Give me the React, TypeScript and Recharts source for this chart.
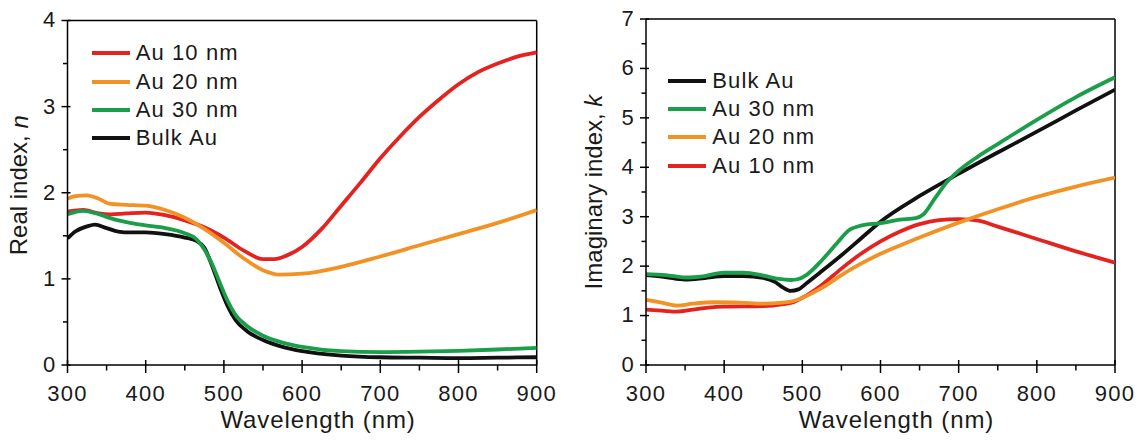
import React from 'react';
import { LineChart, Line, XAxis, YAxis, ReferenceLine, Legend } from 'recharts';

const FONT = '"Liberation Sans", Arial, Helvetica, sans-serif';
const TEXT = '#1a1a1a';
const RED = '#e42320';
const ORANGE = '#f39224';
const GREEN = '#1a9e4a';
const BLACK = '#111111';

// Axes
const wavelengthTicks = [300, 350, 400, 450, 500, 550, 600, 650, 700, 750, 800, 850, 900];
const realTicks = [0, 0.5, 1, 1.5, 2, 2.5, 3, 3.5, 4];
const imagTicks = [0, 0.5, 1, 1.5, 2, 2.5, 3, 3.5, 4, 4.5, 5, 5.5, 6, 6.5, 7];

// Real index n
const nAu10Wl = [300, 320, 340, 355, 375, 400, 425, 450, 475, 500, 525, 550, 565, 580, 600, 625, 650, 675, 700, 725, 750, 775, 800, 825, 850, 875, 900];
const nAu10 = [1.78, 1.8, 1.76, 1.75, 1.76, 1.77, 1.74, 1.68, 1.6, 1.48, 1.33, 1.23, 1.23, 1.27, 1.37, 1.58, 1.85, 2.12, 2.4, 2.65, 2.88, 3.08, 3.26, 3.4, 3.5, 3.58, 3.63];

const nAu20Wl = [300, 310, 325, 340, 355, 375, 400, 425, 450, 475, 500, 525, 550, 570, 600, 650, 700, 750, 800, 850, 900];
const nAu20 = [1.93, 1.96, 1.97, 1.93, 1.87, 1.86, 1.85, 1.8, 1.71, 1.58, 1.42, 1.24, 1.1, 1.05, 1.06, 1.14, 1.26, 1.39, 1.52, 1.65, 1.8];

const nAu30Wl = [300, 320, 340, 360, 380, 400, 425, 450, 465, 475, 485, 495, 505, 515, 530, 550, 575, 600, 650, 700, 750, 800, 850, 900];
const nAu30 = [1.75, 1.79, 1.75, 1.69, 1.65, 1.62, 1.59, 1.53, 1.46, 1.34, 1.17, 0.95, 0.74, 0.58, 0.45, 0.34, 0.26, 0.21, 0.16, 0.15, 0.155, 0.165, 0.18, 0.2];

const nBulkWl = [300, 310, 325, 335, 350, 365, 380, 400, 425, 450, 465, 475, 485, 495, 505, 515, 530, 550, 575, 600, 650, 700, 750, 800, 850, 900];
const nBulk = [1.47, 1.55, 1.61, 1.63, 1.59, 1.55, 1.54, 1.54, 1.52, 1.48, 1.44, 1.36, 1.15, 0.9, 0.68, 0.52, 0.39, 0.29, 0.21, 0.16, 0.11, 0.09, 0.085, 0.08, 0.085, 0.09];

// Imaginary index k
const kBulkWl = [300, 325, 350, 375, 400, 425, 450, 465, 475, 485, 495, 505, 525, 550, 575, 600, 650, 700, 750, 800, 850, 900];
const kBulk = [1.82, 1.78, 1.73, 1.76, 1.8, 1.8, 1.76, 1.68, 1.57, 1.5, 1.53, 1.65, 1.9, 2.22, 2.56, 2.9, 3.42, 3.87, 4.3, 4.72, 5.15, 5.57];

const kAu30Wl = [300, 325, 350, 375, 400, 425, 450, 470, 485, 495, 505, 525, 545, 560, 575, 600, 625, 645, 655, 670, 685, 700, 725, 750, 800, 850, 900];
const kAu30 = [1.84, 1.82, 1.77, 1.8, 1.87, 1.87, 1.81, 1.74, 1.72, 1.74, 1.82, 2.12, 2.48, 2.73, 2.82, 2.87, 2.94, 2.97, 3.05, 3.38, 3.7, 3.93, 4.22, 4.47, 4.96, 5.42, 5.82];

const kAu20Wl = [300, 320, 340, 360, 390, 420, 450, 475, 490, 500, 525, 550, 575, 600, 625, 650, 700, 750, 800, 850, 900];
const kAu20 = [1.32, 1.26, 1.2, 1.24, 1.27, 1.26, 1.24, 1.26, 1.3, 1.36, 1.56, 1.82, 2.05, 2.25, 2.42, 2.58, 2.88, 3.15, 3.4, 3.61, 3.79];

const kAu10Wl = [300, 320, 340, 360, 380, 400, 450, 475, 490, 500, 525, 550, 575, 600, 625, 650, 675, 700, 725, 750, 800, 850, 900];
const kAu10 = [1.12, 1.1, 1.08, 1.12, 1.16, 1.18, 1.19, 1.23, 1.28, 1.36, 1.62, 1.95, 2.25, 2.5, 2.7, 2.85, 2.93, 2.95, 2.92, 2.8, 2.55, 2.3, 2.07];

const toPoints = (xs: number[], ys: number[]) => xs.map((wl, i) => ({ wl, v: ys[i] }));

type Series = { name: string; color: string; wl: number[]; vals: number[] };

const realSeries: Series[] = [
  { name: 'Au 10 nm', color: RED, wl: nAu10Wl, vals: nAu10 },
  { name: 'Au 20 nm', color: ORANGE, wl: nAu20Wl, vals: nAu20 },
  { name: 'Au 30 nm', color: GREEN, wl: nAu30Wl, vals: nAu30 },
  { name: 'Bulk Au', color: BLACK, wl: nBulkWl, vals: nBulk },
];
const realDrawOrder = ['Bulk Au', 'Au 10 nm', 'Au 20 nm', 'Au 30 nm'];

const imagSeries: Series[] = [
  { name: 'Bulk Au', color: BLACK, wl: kBulkWl, vals: kBulk },
  { name: 'Au 30 nm', color: GREEN, wl: kAu30Wl, vals: kAu30 },
  { name: 'Au 20 nm', color: ORANGE, wl: kAu20Wl, vals: kAu20 },
  { name: 'Au 10 nm', color: RED, wl: kAu10Wl, vals: kAu10 },
];
const imagDrawOrder = ['Bulk Au', 'Au 10 nm', 'Au 20 nm', 'Au 30 nm'];

const XTick = (props: any) => {
  const { x, y, payload } = props;
  const major = payload.value % 100 === 0;
  return (
    <g>
      {major ? (
        <line x1={x} x2={x} y1={y - 5} y2={y + 8} stroke="#000" strokeWidth={1.5} />
      ) : (
        <line x1={x} x2={x} y1={y} y2={y + 5.5} stroke="#000" strokeWidth={1.5} />
      )}
      {major && (
        <text x={x} y={y + 36} textAnchor="middle" fontFamily={FONT} fontSize={22} letterSpacing={1.2} fill={TEXT}>
          {payload.value}
        </text>
      )}
    </g>
  );
};

const YTick = (props: any) => {
  const { x, y, payload } = props;
  const major = Number.isInteger(payload.value);
  return (
    <g>
      {major ? (
        <line x1={x - 6} x2={x + 3} y1={y} y2={y} stroke="#000" strokeWidth={1.5} />
      ) : (
        <line x1={x - 4.5} x2={x} y1={y} y2={y} stroke="#000" strokeWidth={1.5} />
      )}
      {major && (
        <text x={x - 11} y={y - 1} dy="0.36em" textAnchor="end" fontFamily={FONT} fontSize={22} letterSpacing={1.2} fill={TEXT}>
          {payload.value}
        </text>
      )}
    </g>
  );
};

const makeYLabel = (main: string, sym: string, dx: number, dyc: number) => (p: any) => {
  const vb = p.viewBox || {};
  const cx = vb.x + dx;
  const cy = vb.y + vb.height / 2 + dyc;
  return (
    <text
      x={cx}
      y={cy}
      transform={`rotate(-90, ${cx}, ${cy})`}
      textAnchor="middle"
      dominantBaseline="central"
      fontFamily={FONT}
      fontSize={24}
      fill={TEXT}
    >
      {main}
      <tspan fontStyle="italic">{sym}</tspan>
    </text>
  );
};

const XLabel = (p: any) => {
  const vb = p.viewBox || {};
  return (
    <text
      x={vb.x + vb.width / 2 + 16}
      y={vb.y + 63}
      textAnchor="middle"
      fontFamily={FONT}
      fontSize={24}
      letterSpacing={0.9}
      fill={TEXT}
    >
      Wavelength (nm)
    </text>
  );
};

const makeLegend = (items: Series[]) => () => (
  <div style={{ fontFamily: FONT }}>
    {items.map((s) => (
      <div key={s.name} style={{ display: 'flex', alignItems: 'center', height: 28.3 }}>
        <span style={{ display: 'inline-block', width: 38, height: 4, background: s.color, marginRight: 6 }} />
        <span style={{ fontSize: 22, letterSpacing: 1.1, color: TEXT, lineHeight: '28px', whiteSpace: 'nowrap' }}>{s.name}</span>
      </div>
    ))}
  </div>
);

type PanelProps = {
  series: Series[];
  order: string[];
  yMax: number;
  yTicks: number[];
  width: number;
  yAxisWidth: number;
  marginTop: number;
  marginRight: number;
  labelMain: string;
  labelSym: string;
  labelDx: number;
  labelDy: number;
  legendLeft: number;
  legendTop: number;
};

const Panel = (pp: PanelProps) => {
  const ordered = pp.order.map((n) => pp.series.find((s) => s.name === n)!);
  return (
    <LineChart
      width={pp.width}
      height={440}
      margin={{ top: pp.marginTop, right: pp.marginRight, bottom: 0, left: 0 }}
    >
      <XAxis
        dataKey="wl"
        type="number"
        domain={[300, 900]}
        ticks={wavelengthTicks}
        interval={0}
        height={75}
        tickSize={0}
        tickMargin={0}
        tickLine={false}
        tick={<XTick />}
        axisLine={{ stroke: '#000', strokeWidth: 1.5 }}
        allowDataOverflow
        label={{ content: XLabel }}
      />
      <YAxis
        type="number"
        domain={[0, pp.yMax]}
        ticks={pp.yTicks}
        interval={0}
        width={pp.yAxisWidth}
        tickSize={0}
        tickMargin={0}
        tickLine={false}
        tick={<YTick />}
        axisLine={{ stroke: '#000', strokeWidth: 1.5 }}
        allowDataOverflow
        label={{ content: makeYLabel(pp.labelMain, pp.labelSym, pp.labelDx, pp.labelDy) }}
      />
      <ReferenceLine y={pp.yMax} stroke="#000" strokeWidth={1.5} ifOverflow="extendDomain" />
      <ReferenceLine x={900} stroke="#000" strokeWidth={1.5} ifOverflow="extendDomain" />
      {ordered.map((s) => (
        <Line
          key={s.name}
          name={s.name}
          data={toPoints(s.wl, s.vals)}
          dataKey="v"
          type="monotone"
          stroke={s.color}
          strokeWidth={3.8}
          dot={false}
          activeDot={false}
          isAnimationActive={false}
        />
      ))}
      <Legend
        layout="vertical"
        align="center"
        verticalAlign="middle"
        content={makeLegend(pp.series)}
        wrapperStyle={{ left: pp.legendLeft, top: pp.legendTop, width: 'auto', height: 'auto' }}
      />
    </LineChart>
  );
};

export default function App() {
  return (
    <div style={{ position: 'absolute', left: 0, top: 0, width: 1143, height: 440, background: '#fff' }}>
      <div style={{ position: 'absolute', left: 0, top: 0 }}>
        <Panel
          series={realSeries}
          order={realDrawOrder}
          yMax={4}
          yTicks={realTicks}
          width={560}
          yAxisWidth={67.5}
          marginTop={20.5}
          marginRight={23.3}
          labelMain="Real index, "
          labelSym="n"
          labelDx={18.7}
          labelDy={-7.5}
          legendLeft={91.7}
          legendTop={39.2}
        />
      </div>
      <div style={{ position: 'absolute', left: 570, top: 0 }}>
        <Panel
          series={imagSeries}
          order={imagDrawOrder}
          yMax={7}
          yTicks={imagTicks}
          width={573}
          yAxisWidth={76}
          marginTop={19}
          marginRight={28}
          labelMain="Imaginary index, "
          labelSym="k"
          labelDx={23}
          labelDy={0}
          legendLeft={98.3}
          legendTop={66.5}
        />
      </div>
    </div>
  );
}
